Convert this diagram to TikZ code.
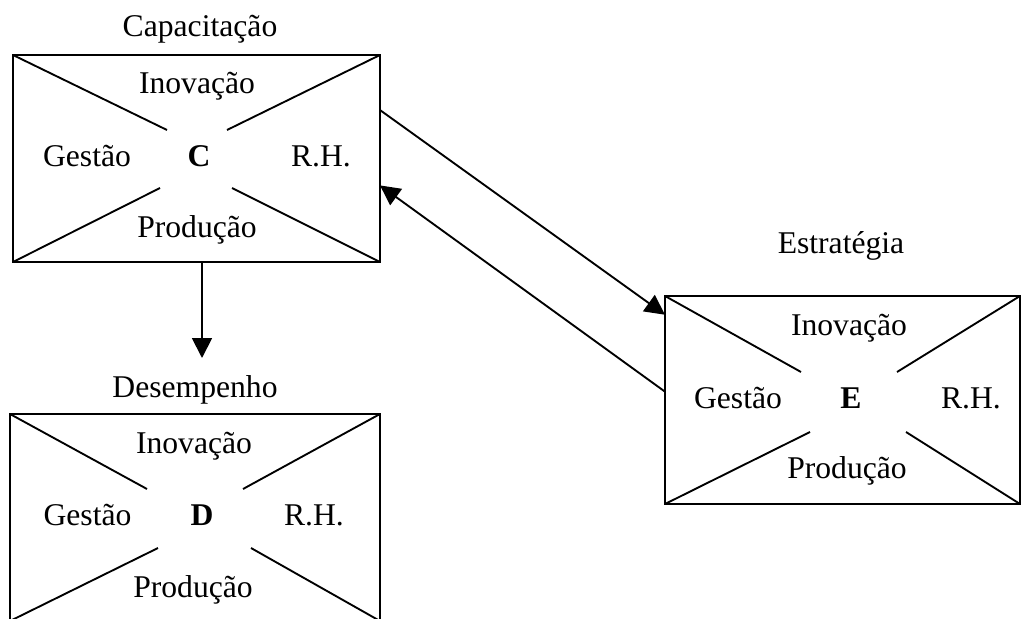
\documentclass[tikz,border=0pt]{standalone}
\usepackage{fontspec}
\setmainfont{Liberation Serif}
\usetikzlibrary{arrows.meta,calc}
\tikzset{
  xbox/.style={draw, line width=1.6pt, inner sep=0pt, outer sep=0pt, minimum height=6.21cm},
  diag/.style={line width=1.6pt},
  rot/.style={anchor=base, inner sep=0pt, font=\fontsize{27}{32}\selectfont},
  arr/.style={line width=1.6pt, -{Triangle[length=17pt,width=17pt]}}
}
\begin{document}
\begin{tikzpicture}[x=0.03cm,y=-0.03cm]
   \useasboundingbox (0,0) rectangle (1021,618);
   % caixas
   \node[xbox, minimum width=11.01cm] (capbox) at (196.5,158.5) {};
   \node[xbox, minimum width=11.1cm] (desbox) at (195,517.5) {};
   \node[xbox, minimum width=10.65cm, minimum height=6.24cm] (estbox) at (842.5,400) {};
   % titulos
   \node[rot] (caplabel) at (200,37) {Capacitação};
   \node[rot] (deslabel) at (195,397) {Desempenho};
   \node[rot] (estlabel) at (841,253) {Estratégia};
   % capacitacao
   \draw[diag] (capbox.north west) -- (167,130);
   \draw[diag] (capbox.north east) -- (227,130);
   \draw[diag] (capbox.south west) -- (160,188);
   \draw[diag] (capbox.south east) -- (232,188);
   \node[rot] (capino) at (197,93) {Inovação};
   \node[rot] (capges) at (87,166) {Gestão};
   \node[rot] (capletra) at (199,166) {\textbf{C}};
   \node[rot] (caprh) at (321,166) {R.H.};
   \node[rot] (capprod) at (197,237) {Produção};
   % desempenho
   \draw[diag] (desbox.north west) -- (147,489);
   \draw[diag] (desbox.north east) -- (243,489);
   \draw[diag] (desbox.south west) -- (158,548);
   \draw[diag] (desbox.south east) -- (251,548);
   \node[rot] (desino) at (194,453) {Inovação};
   \node[rot] (desges) at (87.5,525) {Gestão};
   \node[rot] (desletra) at (202,525) {\textbf{D}};
   \node[rot] (desrh) at (314,525) {R.H.};
   \node[rot] (desprod) at (193,597) {Produção};
   % estrategia
   \draw[diag] (estbox.north west) -- (801,372);
   \draw[diag] (estbox.north east) -- (897,372);
   \draw[diag] (estbox.south west) -- (810,432);
   \draw[diag] (estbox.south east) -- (906,432);
   \node[rot] (estino) at (849,335) {Inovação};
   \node[rot] (estges) at (738,408) {Gestão};
   \node[rot] (estletra) at (851,408) {\textbf{E}};
   \node[rot] (estrh) at (971,408) {R.H.};
   \node[rot] (estprod) at (847,478) {Produção};
   % setas
   \coordinate (dtip) at (202,358);
   \draw[arr] (capbox.south -| dtip) -- (dtip);
   \draw[arr] ($(capbox.north east)!0.266!(capbox.south east)$) -- ($(estbox.north west)!0.09!(estbox.south west)$);
   \draw[arr] ($(estbox.north west)!0.46!(estbox.south west)$) -- ($(capbox.north east)!0.63!(capbox.south east)$);
\end{tikzpicture}
\end{document}
